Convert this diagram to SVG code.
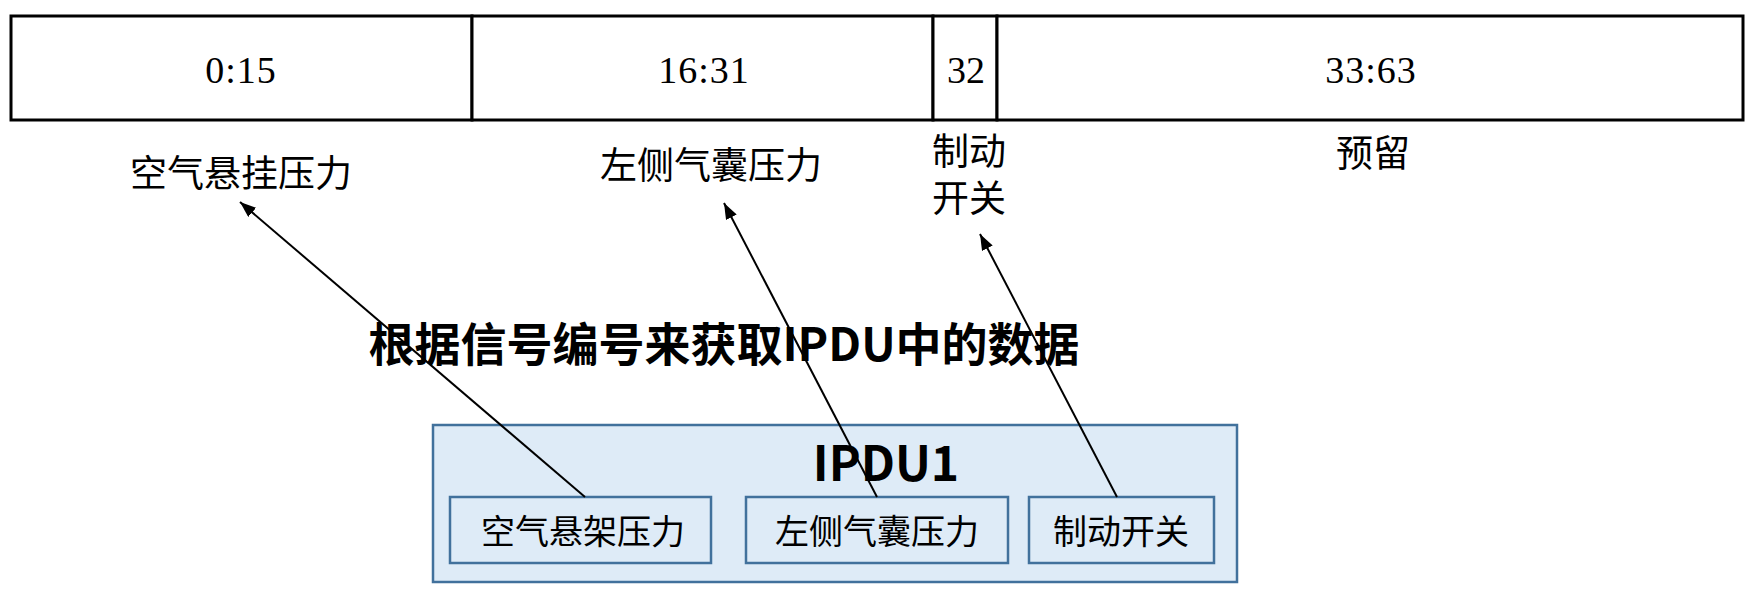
<svg xmlns="http://www.w3.org/2000/svg" width="1750" height="594" viewBox="0 0 1750 594">
<style>
.cell{fill:#ffffff;stroke:#000000;stroke-width:3}
.num{font-family:"Liberation Serif","Noto Sans CJK SC",serif;font-size:38px;fill:#000;text-anchor:middle;letter-spacing:1px}
.lbl{font-family:"Noto Sans CJK SC",sans-serif;font-size:37px;fill:#000;text-anchor:middle}
.title{font-family:"Noto Sans CJK SC",sans-serif;font-size:46px;font-weight:bold;fill:#000;text-anchor:middle}
.box{fill:#DEEBF7;stroke:#41719C;stroke-width:2.5}
.sig{font-family:"Noto Sans CJK SC",sans-serif;font-size:34px;fill:#000;text-anchor:middle}
.conn{stroke:#000;stroke-width:2;fill:none;marker-end:url(#ah)}
</style>
<defs>
<marker id="ah" markerUnits="userSpaceOnUse" markerWidth="18" markerHeight="14" refX="16" refY="6" orient="auto">
<path d="M0,0 L16,6 L0,12 z" fill="#000"/>
</marker>
</defs>
<rect width="1750" height="594" fill="#ffffff"/>
<g id="frame">
<rect class="cell" x="11" y="16" width="461" height="104"/>
<rect class="cell" x="472" y="16" width="461" height="104"/>
<rect class="cell" x="933" y="16" width="64" height="104"/>
<rect class="cell" x="997" y="16" width="746" height="104"/>
<text class="num" x="241" y="83">0:15</text>
<text class="num" x="704" y="83">16:31</text>
<text class="num" x="966" y="83" style="letter-spacing:0">32</text>
<text class="num" x="1371" y="83">33:63</text>
</g>
<g id="labels">
<text class="lbl" x="241" y="187">空气悬挂压力</text>
<text class="lbl" x="711" y="179">左侧气囊压力</text>
<text class="lbl" x="969" y="165">制动</text>
<text class="lbl" x="969" y="212">开关</text>
<text class="lbl" x="1373" y="167">预留</text>
</g>
<g id="title">
<text class="title" x="724" y="361">根据信号编号来获取IPDU中的数据</text>
</g>
<g id="ipdu1">
<rect class="box" x="433" y="425" width="804" height="157"/>
<text class="title" x="886" y="481" style="font-size:48px">IPDU1</text>
</g>
<g id="sig1">
<rect class="box" x="450" y="497" width="261" height="66"/>
<text class="sig" x="583" y="544">空气悬架压力</text>
</g>
<g id="sig2">
<rect class="box" x="746" y="497" width="262" height="66"/>
<text class="sig" x="877" y="544">左侧气囊压力</text>
</g>
<g id="sig3">
<rect class="box" x="1029" y="497" width="185" height="66"/>
<text class="sig" x="1121" y="544">制动开关</text>
</g>
<g id="connectors">
<line class="conn" x1="585" y1="497" x2="240" y2="202"/>
<line class="conn" x1="877" y1="497" x2="724" y2="203"/>
<line class="conn" x1="1117" y1="497" x2="980" y2="234"/>
</g>
</svg>
